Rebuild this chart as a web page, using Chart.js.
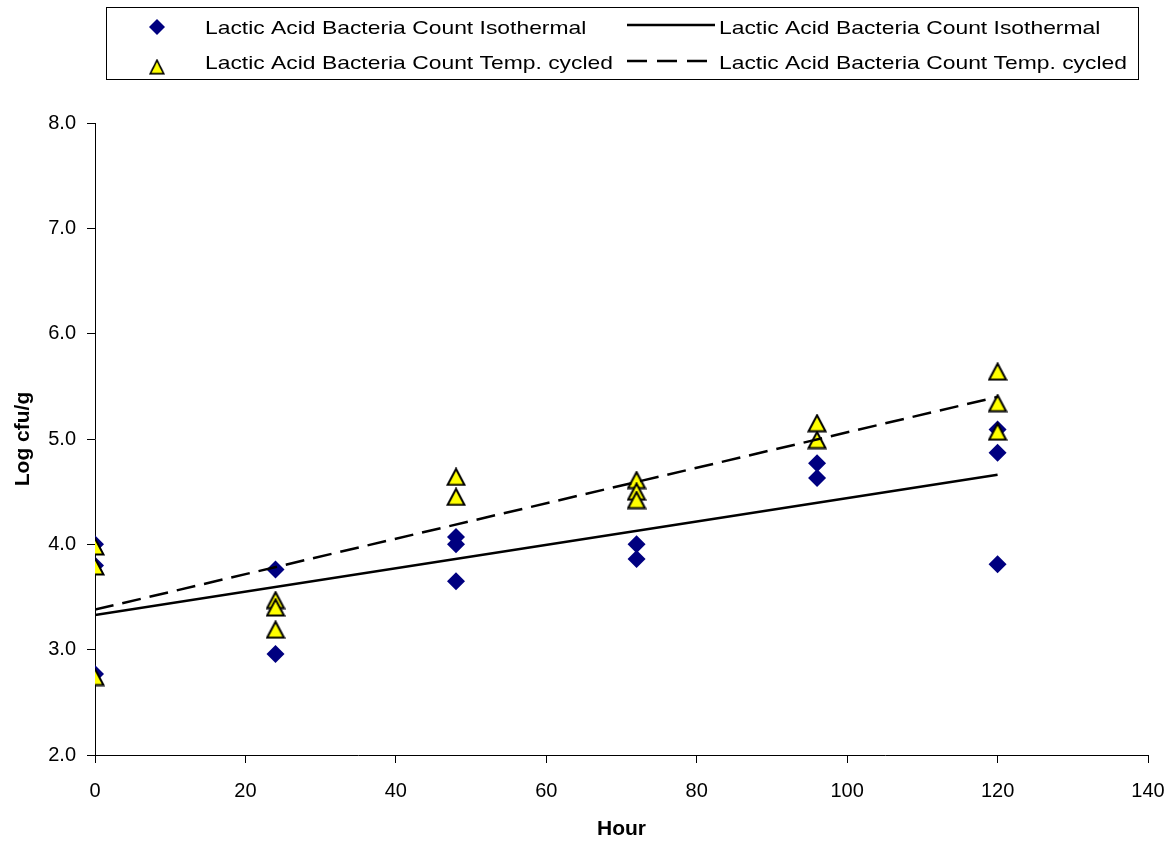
<!DOCTYPE html>
<html>
<head>
<meta charset="utf-8">
<script src="https://cdn.jsdelivr.net/npm/chart.js@4.4.1/dist/chart.umd.min.js"></script>
<style>
  body { margin: 0; background: #fff; }
  canvas { display: block; }
</style>
</head>
<body>
<canvas id="labChart" width="1172" height="842"></canvas>
<script>
// Contagem de bactérias láticas - isotérmico vs temperatura ciclada

const isoHours = [0, 0, 0, 24, 24, 48, 48, 48, 72, 72, 96, 96, 120, 120, 120];
const isoLog = [4.0, 3.8, 2.77, 3.76, 2.96, 4.07, 4.0, 3.65, 4.0, 3.86, 4.77, 4.63, 5.09, 4.87, 3.81];

const cycHours = [0, 0, 0, 24, 24, 24, 48, 48, 72, 72, 72, 96, 96, 120, 120, 120];
const cycLog = [3.98, 3.79, 2.74, 3.47, 3.40, 3.19, 4.64, 4.45, 4.61, 4.50, 4.42, 5.15, 4.99, 5.64, 5.34, 5.07];

// linhas de tendência (início e fim)
const trendHours = [0, 120];
const isoTrend = [3.33, 4.66];
const cycTrend = [3.38, 5.40];

const xTicks = [0, 20, 40, 60, 80, 100, 120, 140];
const yTicks = [2, 3, 4, 5, 6, 7, 8];

const labelIso = 'Lactic Acid Bacteria Count Isothermal';
const labelCyc = 'Lactic Acid Bacteria Count Temp. cycled';

const FONT = '"Liberation Sans", Arial, sans-serif';

function toPoints(xs, ys) {
    return xs.map((x, i) => ({ x: x, y: ys[i] }));
}

// marcador triangular estilo Excel (centrado na caixa)
function makeTriangle() {
    const c = document.createElement('canvas');
    c.width = 20; c.height = 19;
    const g = c.getContext('2d');
    g.beginPath();
    g.moveTo(10, 1.5);
    g.lineTo(18.5, 17.5);
    g.lineTo(1.5, 17.5);
    g.closePath();
    g.fillStyle = '#FFFF00';
    g.fill();
    g.lineWidth = 2;
    g.strokeStyle = '#000000';
    g.stroke();
    return c;
}
const triangleImg = makeTriangle();

const legendBox = {
    id: 'legendBox',
    afterDraw(chart) {
        const ctx = chart.ctx;
        ctx.save();
        ctx.strokeStyle = '#000';
        ctx.lineWidth = 1;
        ctx.strokeRect(106.5, 7.5, 1032, 72);

        ctx.font = '19px ' + FONT;
        ctx.textBaseline = 'middle';
        ctx.textAlign = 'left';
        // texto da legenda um pouco esticado, como no original
        const sx = 408 / ctx.measureText(labelCyc).width;
        const text = (t, x, y) => {
            ctx.save();
            ctx.translate(x, y);
            ctx.scale(sx, 1);
            ctx.fillStyle = '#000';
            ctx.fillText(t, 0, 0);
            ctx.restore();
        };

        // linha 1
        ctx.beginPath();
        ctx.moveTo(157, 19); ctx.lineTo(165, 27); ctx.lineTo(157, 35); ctx.lineTo(149, 27);
        ctx.closePath();
        ctx.fillStyle = '#000080';
        ctx.fill();
        text(labelIso, 205, 29);

        ctx.beginPath();
        ctx.lineWidth = 2.5;
        ctx.moveTo(627, 25); ctx.lineTo(715, 25);
        ctx.stroke();
        text(labelIso, 719, 29);

        // linha 2
        ctx.drawImage(triangleImg, 157 - 8, 67 - 8, 16, 16);
        text(labelCyc, 205, 64);

        ctx.beginPath();
        ctx.setLineDash([20, 10]);
        ctx.moveTo(627, 61); ctx.lineTo(707, 61);
        ctx.stroke();
        ctx.setLineDash([]);
        text(labelCyc, 719, 64);
        ctx.restore();
    }
};

const ctx = document.getElementById('labChart').getContext('2d');
const labChart = new Chart(ctx, {
    type: 'scatter',
    data: {
        datasets: [
            {
                type: 'line',
                label: labelIso,
                data: toPoints(trendHours, isoTrend),
                borderColor: '#000',
                borderWidth: 2.5,
                pointRadius: 0,
                fill: false,
                order: 0
            },
            {
                type: 'line',
                label: labelCyc,
                data: toPoints(trendHours, cycTrend),
                borderColor: '#000',
                borderWidth: 2.5,
                borderDash: [19, 9],
                pointRadius: 0,
                fill: false,
                order: 0
            },
            {
                label: labelCyc,
                data: toPoints(cycHours, cycLog),
                pointStyle: triangleImg,
                pointRadius: 10,
                order: 1
            },
            {
                label: labelIso,
                data: toPoints(isoHours, isoLog),
                pointStyle: 'rectRot',
                pointRadius: 9,
                backgroundColor: '#000080',
                borderColor: '#000080',
                borderWidth: 0,
                order: 2
            }
        ]
    },
    options: {
        responsive: false,
        animation: false,
        layout: { padding: { left: 0, right: 24, top: 123, bottom: 0 } },
        plugins: {
            legend: { display: false },
            tooltip: { enabled: false }
        },
        scales: {
            x: {
                type: 'linear',
                min: 0,
                max: 140,
                afterBuildTicks: s => { s.ticks = xTicks.map(v => ({ value: v })); },
                afterFit: s => { s.height = 87; s.paddingLeft = 0; s.paddingRight = 0; },
                grid: { drawOnChartArea: false, drawTicks: true, tickLength: 8, color: '#000' },
                border: { display: true, color: '#000', width: 1 },
                ticks: { color: '#000', padding: 16, font: { family: FONT, size: 20 } },
                title: {
                    display: true, text: 'Hour', color: '#000',
                    padding: { top: 0, bottom: 0 },
                    font: { family: FONT, size: 21, weight: 'bold' }
                }
            },
            y: {
                min: 2,
                max: 8,
                afterBuildTicks: s => { s.ticks = yTicks.map(v => ({ value: v })); },
                afterFit: s => { s.width = 95; s.paddingTop = 0; s.paddingBottom = 0; },
                grid: { drawOnChartArea: false, drawTicks: true, tickLength: 8, color: '#000' },
                border: { display: true, color: '#000', width: 1 },
                ticks: {
                    color: '#000', padding: 11,
                    font: { family: FONT, size: 20 },
                    callback: v => v.toFixed(1)
                },
                title: {
                    display: true, text: 'Log cfu/g', color: '#000',
                    padding: { top: 11, bottom: 0 },
                    font: { family: FONT, size: 21, weight: 'bold' }
                }
            }
        }
    },
    plugins: [legendBox]
});
</script>
</body>
</html>
